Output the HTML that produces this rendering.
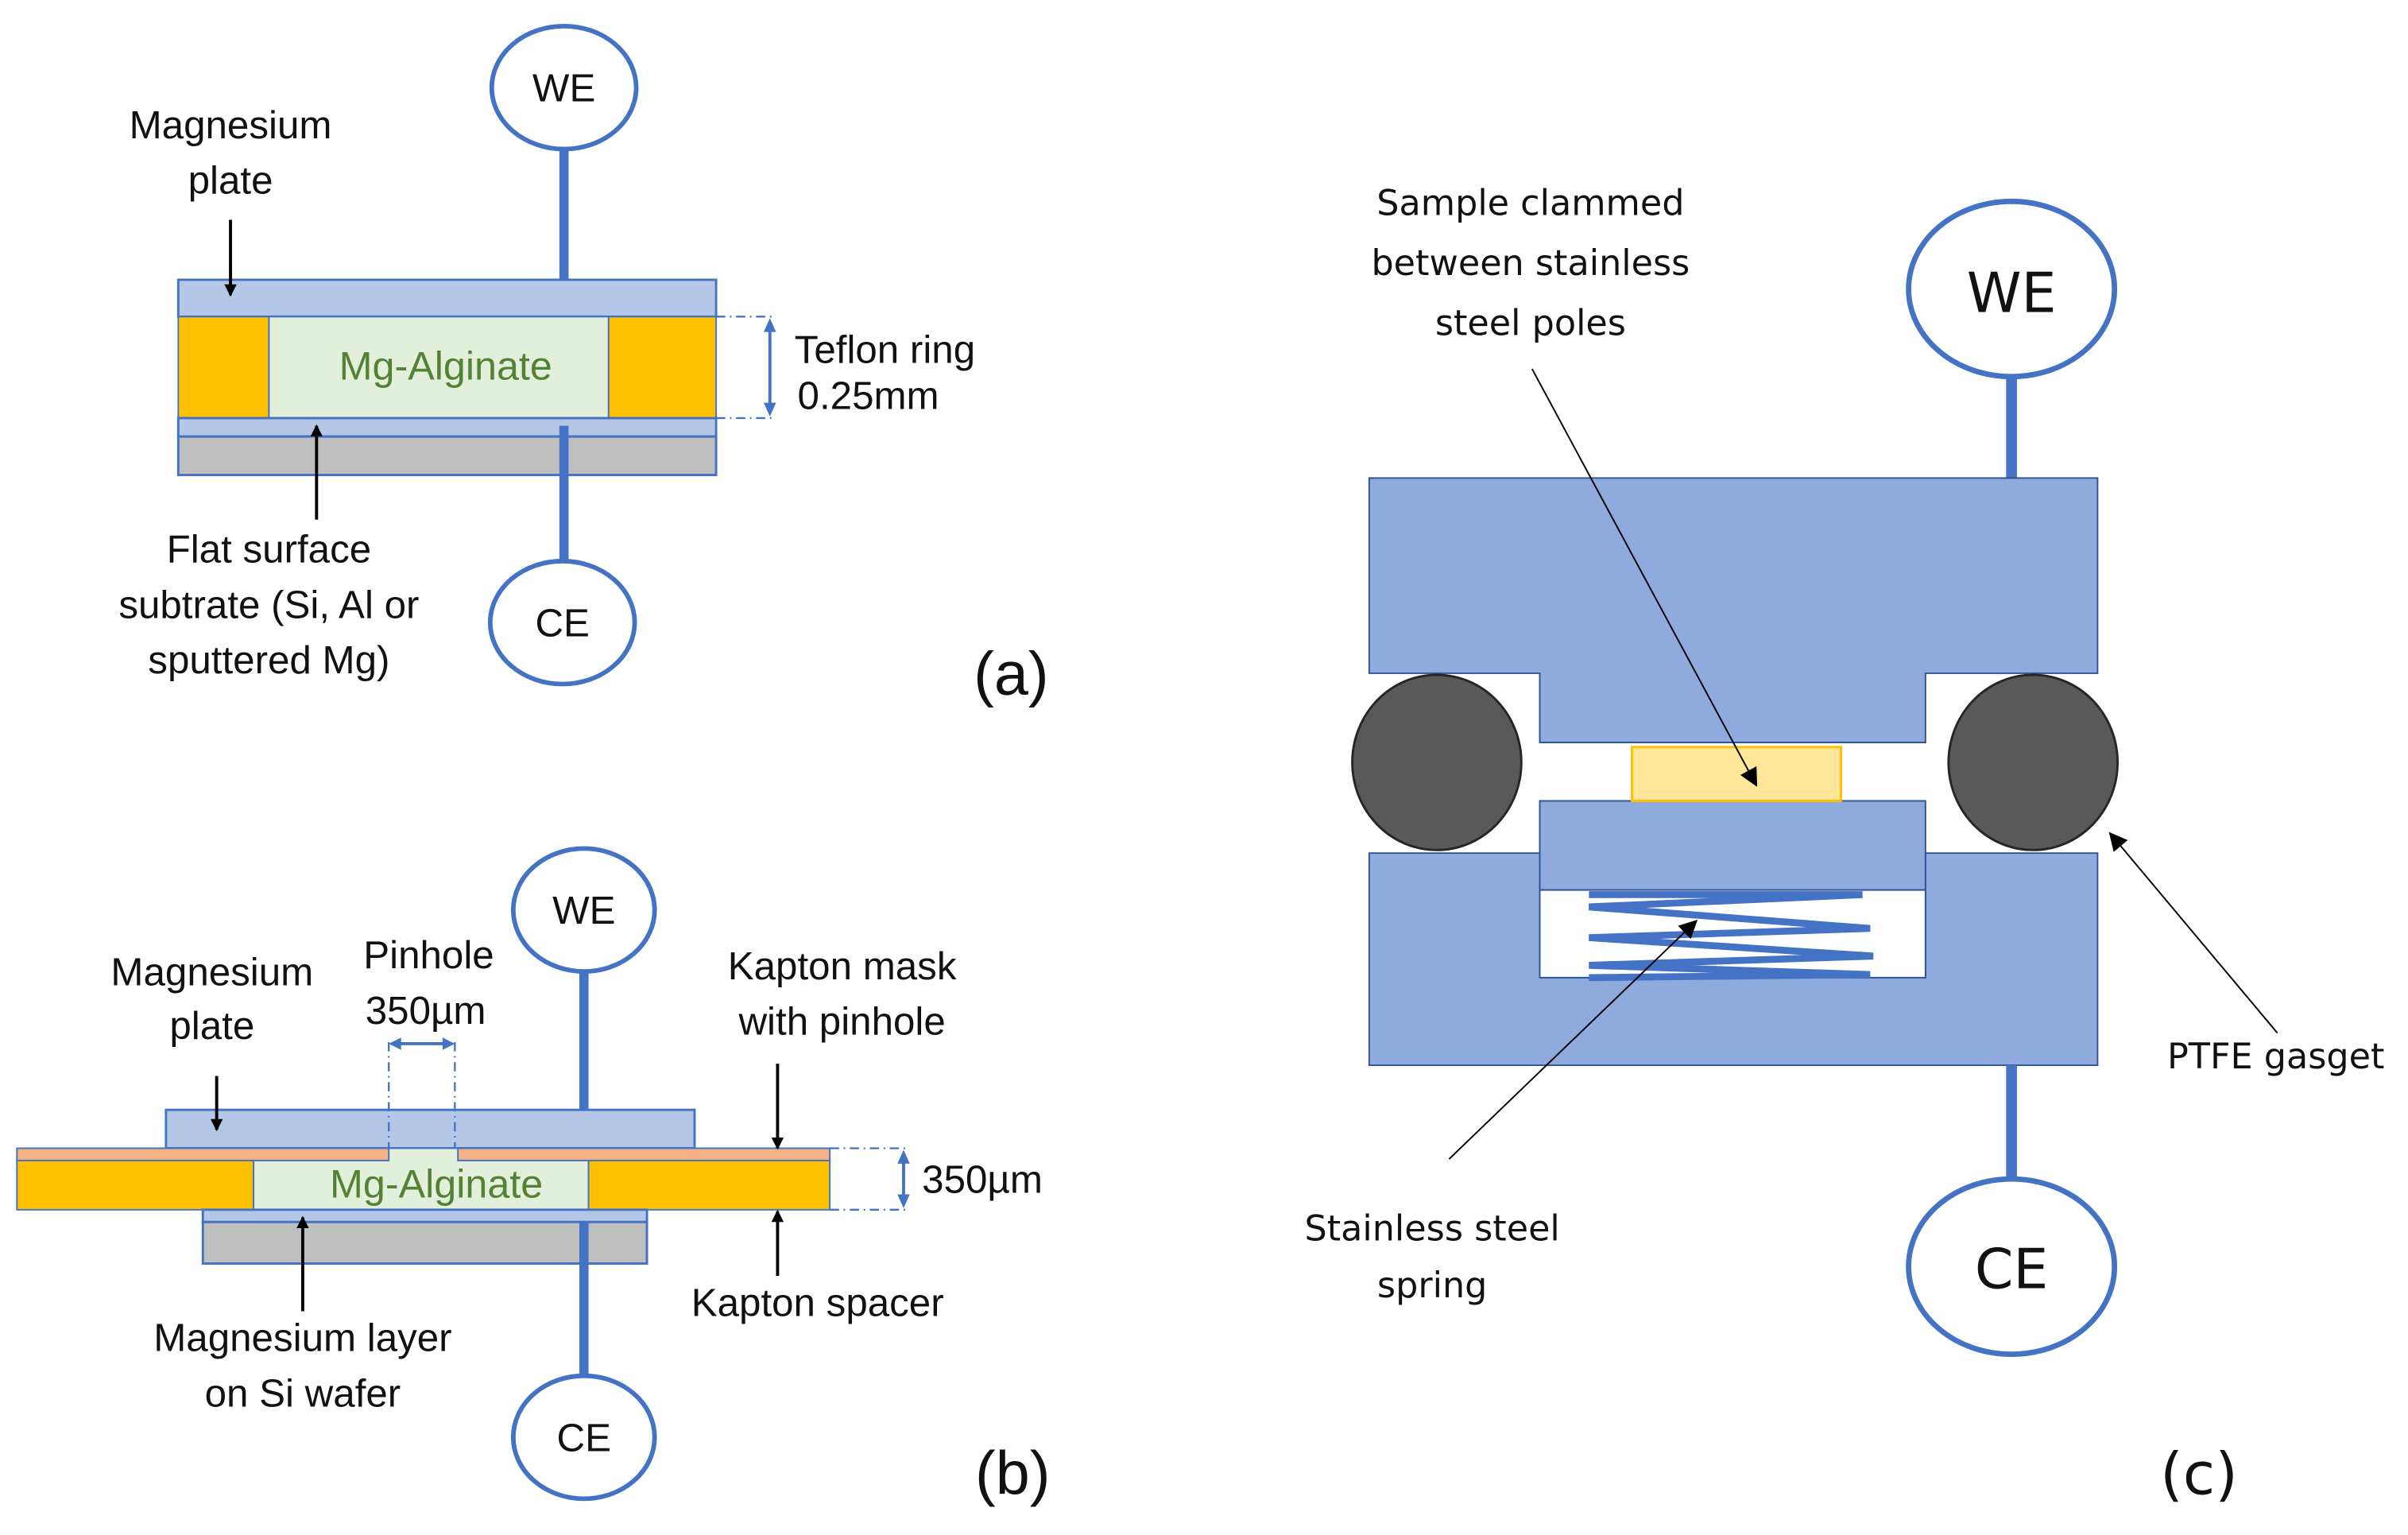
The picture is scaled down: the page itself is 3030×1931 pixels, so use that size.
<!DOCTYPE html>
<html><head><meta charset="utf-8"><style>
html,body{margin:0;padding:0;background:#fff;}
svg{display:block;}
text{font-family:"Liberation Sans",sans-serif;fill:#111;}
.c text{font-family:"DejaVu Sans",sans-serif;}
</style></head><body>
<svg width="3030" height="1931" viewBox="0 0 1567 998.6" preserveAspectRatio="none" xmlns="http://www.w3.org/2000/svg">
<defs>
<marker id="ab" markerWidth="8" markerHeight="8" refX="7" refY="4" orient="auto" markerUnits="userSpaceOnUse"><path d="M0,0 L8,4 L0,8 z" fill="#000"/></marker>
<marker id="abk" markerWidth="12" markerHeight="12" refX="11" refY="6" orient="auto" markerUnits="userSpaceOnUse"><path d="M0,0 L12,6 L0,12 z" fill="#000"/></marker>
</defs>
<!-- (a) -->
<line x1="367" y1="97" x2="367" y2="190" stroke="#4472c4" stroke-width="6"/>
<ellipse cx="367" cy="57" rx="47" ry="40" fill="#fff" stroke="#4472c4" stroke-width="3"/>
<text x="367" y="66" font-size="25.5" text-anchor="middle">WE</text>
<rect x="116" y="182" width="350" height="24" fill="#b4c7e7" stroke="#4472c4" stroke-width="1.5"/>
<rect x="116" y="206" width="59" height="66" fill="#ffc000" stroke="#4472c4" stroke-width="1"/>
<rect x="396" y="206" width="70" height="66" fill="#ffc000" stroke="#4472c4" stroke-width="1"/>
<rect x="175" y="206" width="221" height="66" fill="#e2efda" stroke="#4472c4" stroke-width="1"/>
<text x="290" y="247" font-size="26" text-anchor="middle" style="fill:#548235">Mg-Alginate</text>
<rect x="116" y="272" width="350" height="12" fill="#b4c7e7" stroke="#4472c4" stroke-width="1.5"/>
<rect x="116" y="284" width="350" height="25" fill="#bfbfbf" stroke="#4472c4" stroke-width="1.5"/>
<line x1="367" y1="277" x2="367" y2="367" stroke="#4472c4" stroke-width="6"/>
<ellipse cx="366" cy="405" rx="47" ry="40" fill="#fff" stroke="#4472c4" stroke-width="3"/>
<text x="366" y="414" font-size="25.5" text-anchor="middle">CE</text>
<line x1="466" y1="206" x2="505" y2="206" stroke="#4472c4" stroke-width="1.2" stroke-dasharray="6,3,1,3"/>
<line x1="466" y1="272" x2="505" y2="272" stroke="#4472c4" stroke-width="1.2" stroke-dasharray="6,3,1,3"/>
<path d="M501,207 l-4,9 h8 z M501,271 l-4,-9 h8 z" fill="#4472c4"/>
<line x1="501" y1="214" x2="501" y2="264" stroke="#4472c4" stroke-width="2"/>
<text x="517" y="236" font-size="25.5">Teflon ring</text>
<text x="519" y="266" font-size="25.5">0.25mm</text>
<text x="150" y="90" font-size="25.5" text-anchor="middle">Magnesium</text>
<text x="150" y="126" font-size="25.5" text-anchor="middle">plate</text>
<line x1="150" y1="143" x2="150" y2="192" stroke="#000" stroke-width="2" marker-end="url(#ab)"/>
<line x1="206" y1="338" x2="206" y2="277" stroke="#000" stroke-width="2" marker-end="url(#ab)"/>
<text x="175" y="366" font-size="25.5" text-anchor="middle">Flat surface</text>
<text x="175" y="402" font-size="25.5" text-anchor="middle">subtrate (Si, Al or</text>
<text x="175" y="438" font-size="25.5" text-anchor="middle">sputtered Mg)</text>
<text x="658" y="452" font-size="40" text-anchor="middle">(a)</text>

<!-- (b) -->
<line x1="380" y1="632" x2="380" y2="722" stroke="#4472c4" stroke-width="6"/>
<ellipse cx="380" cy="592" rx="46" ry="40" fill="#fff" stroke="#4472c4" stroke-width="3"/>
<text x="380" y="601" font-size="25.5" text-anchor="middle">WE</text>
<rect x="108" y="722" width="344" height="25" fill="#b4c7e7" stroke="#4472c4" stroke-width="1.5"/>
<rect x="165" y="747" width="218" height="40" fill="#e2efda" stroke="#4472c4" stroke-width="1"/>
<rect x="11" y="747" width="242" height="8" fill="#f4b183" stroke="#4472c4" stroke-width="1"/>
<rect x="298" y="747" width="242" height="8" fill="#f4b183" stroke="#4472c4" stroke-width="1"/>
<rect x="11" y="755" width="154" height="32" fill="#ffc000" stroke="#4472c4" stroke-width="1"/>
<rect x="383" y="755" width="157" height="32" fill="#ffc000" stroke="#4472c4" stroke-width="1"/>
<text x="284" y="779" font-size="26" text-anchor="middle" style="fill:#548235">Mg-Alginate</text>
<rect x="132" y="787" width="289" height="8" fill="#b4c7e7" stroke="#4472c4" stroke-width="1.5"/>
<rect x="132" y="795" width="289" height="27" fill="#bfbfbf" stroke="#4472c4" stroke-width="1.5"/>
<line x1="380" y1="795" x2="380" y2="895" stroke="#4472c4" stroke-width="6"/>
<ellipse cx="380" cy="935" rx="46" ry="40" fill="#fff" stroke="#4472c4" stroke-width="3"/>
<text x="380" y="944" font-size="25.5" text-anchor="middle">CE</text>
<line x1="253" y1="678" x2="253" y2="747" stroke="#4472c4" stroke-width="1.2" stroke-dasharray="6,3,1,3"/>
<line x1="296" y1="678" x2="296" y2="747" stroke="#4472c4" stroke-width="1.2" stroke-dasharray="6,3,1,3"/>
<line x1="258" y1="679" x2="291" y2="679" stroke="#4472c4" stroke-width="2"/>
<path d="M253,679 l8,-4 v8 z M296,679 l-8,-4 v8 z" fill="#4472c4"/>
<line x1="540" y1="747" x2="592" y2="747" stroke="#4472c4" stroke-width="1.2" stroke-dasharray="6,3,1,3"/>
<line x1="540" y1="787" x2="592" y2="787" stroke="#4472c4" stroke-width="1.2" stroke-dasharray="6,3,1,3"/>
<line x1="588" y1="754" x2="588" y2="780" stroke="#4472c4" stroke-width="2"/>
<path d="M588,748 l-4,9 h8 z M588,786 l-4,-9 h8 z" fill="#4472c4"/>
<text x="600" y="776" font-size="25.5">350µm</text>
<text x="279" y="630" font-size="25.5" text-anchor="middle">Pinhole</text>
<text x="277" y="666" font-size="25.5" text-anchor="middle">350µm</text>
<text x="138" y="641" font-size="25.5" text-anchor="middle">Magnesium</text>
<text x="138" y="676" font-size="25.5" text-anchor="middle">plate</text>
<line x1="141" y1="700" x2="141" y2="735" stroke="#000" stroke-width="2" marker-end="url(#ab)"/>
<text x="548" y="637" font-size="25.5" text-anchor="middle">Kapton mask</text>
<text x="548" y="673" font-size="25.5" text-anchor="middle">with pinhole</text>
<line x1="506" y1="692" x2="506" y2="747" stroke="#000" stroke-width="2" marker-end="url(#ab)"/>
<line x1="506" y1="830" x2="506" y2="788" stroke="#000" stroke-width="2" marker-end="url(#ab)"/>
<text x="532" y="856" font-size="25.5" text-anchor="middle">Kapton spacer</text>
<line x1="197" y1="853" x2="197" y2="792" stroke="#000" stroke-width="2" marker-end="url(#ab)"/>
<text x="197" y="879" font-size="25.5" text-anchor="middle">Magnesium layer</text>
<text x="197" y="915" font-size="25.5" text-anchor="middle">on Si wafer</text>
<text x="659" y="972" font-size="40" text-anchor="middle">(b)</text>

<!-- (c) -->
<g class="c">
<line x1="1309" y1="240" x2="1309" y2="312" stroke="#4472c4" stroke-width="7"/>
<ellipse cx="1309" cy="188" rx="67" ry="57" fill="#fff" stroke="#4472c4" stroke-width="3.5"/>
<text x="1309" y="203" font-size="36" text-anchor="middle">WE</text>
<path d="M891,311 H1365 V438 H1253 V483 H1002 V438 H891 Z" fill="#8faadc" stroke="#2f5597" stroke-width="1"/>
<path d="M891,555 H1002 V636 H1253 V555 H1365 V693 H891 Z" fill="#8faadc" stroke="#2f5597" stroke-width="1"/>
<rect x="1002" y="521" width="251" height="58" fill="#8faadc" stroke="#2f5597" stroke-width="1"/>
<rect x="1002" y="579" width="251" height="57" fill="#fff" stroke="#2f5597" stroke-width="1"/>
<rect x="1062" y="486" width="136" height="35" fill="#ffe699" stroke="#ffc000" stroke-width="1.5"/>
<polyline points="1034,582 1212,582 1034,590 1217,604 1034,610 1219,622 1034,628 1217,634 1034,636" fill="none" stroke="#4472c4" stroke-width="4.5"/>
<ellipse cx="935" cy="496" rx="55" ry="57" fill="#595959" stroke="#262626" stroke-width="1.5"/>
<ellipse cx="1323" cy="496" rx="55" ry="57" fill="#595959" stroke="#262626" stroke-width="1.5"/>
<line x1="1309" y1="693" x2="1309" y2="770" stroke="#4472c4" stroke-width="7"/>
<ellipse cx="1309" cy="824" rx="67" ry="57" fill="#fff" stroke="#4472c4" stroke-width="3.5"/>
<text x="1309" y="838" font-size="36" text-anchor="middle">CE</text>
<text x="996" y="140" font-size="23" text-anchor="middle">Sample clammed</text>
<text x="996" y="179" font-size="23" text-anchor="middle">between stainless</text>
<text x="996" y="218" font-size="23" text-anchor="middle">steel poles</text>
<line x1="997" y1="240" x2="1143" y2="511" stroke="#000" stroke-width="1" marker-end="url(#abk)"/>
<text x="932" y="807" font-size="23" text-anchor="middle">Stainless steel</text>
<text x="932" y="844" font-size="23" text-anchor="middle">spring</text>
<line x1="943" y1="754" x2="1104" y2="599" stroke="#000" stroke-width="1" marker-end="url(#abk)"/>
<text x="1481" y="695" font-size="23" text-anchor="middle">PTFE gasget</text>
<line x1="1482" y1="672" x2="1373" y2="542" stroke="#000" stroke-width="1" marker-end="url(#abk)"/>
<text x="1431" y="972" font-size="38" text-anchor="middle">(c)</text>
</g>
</svg>
</body></html>
